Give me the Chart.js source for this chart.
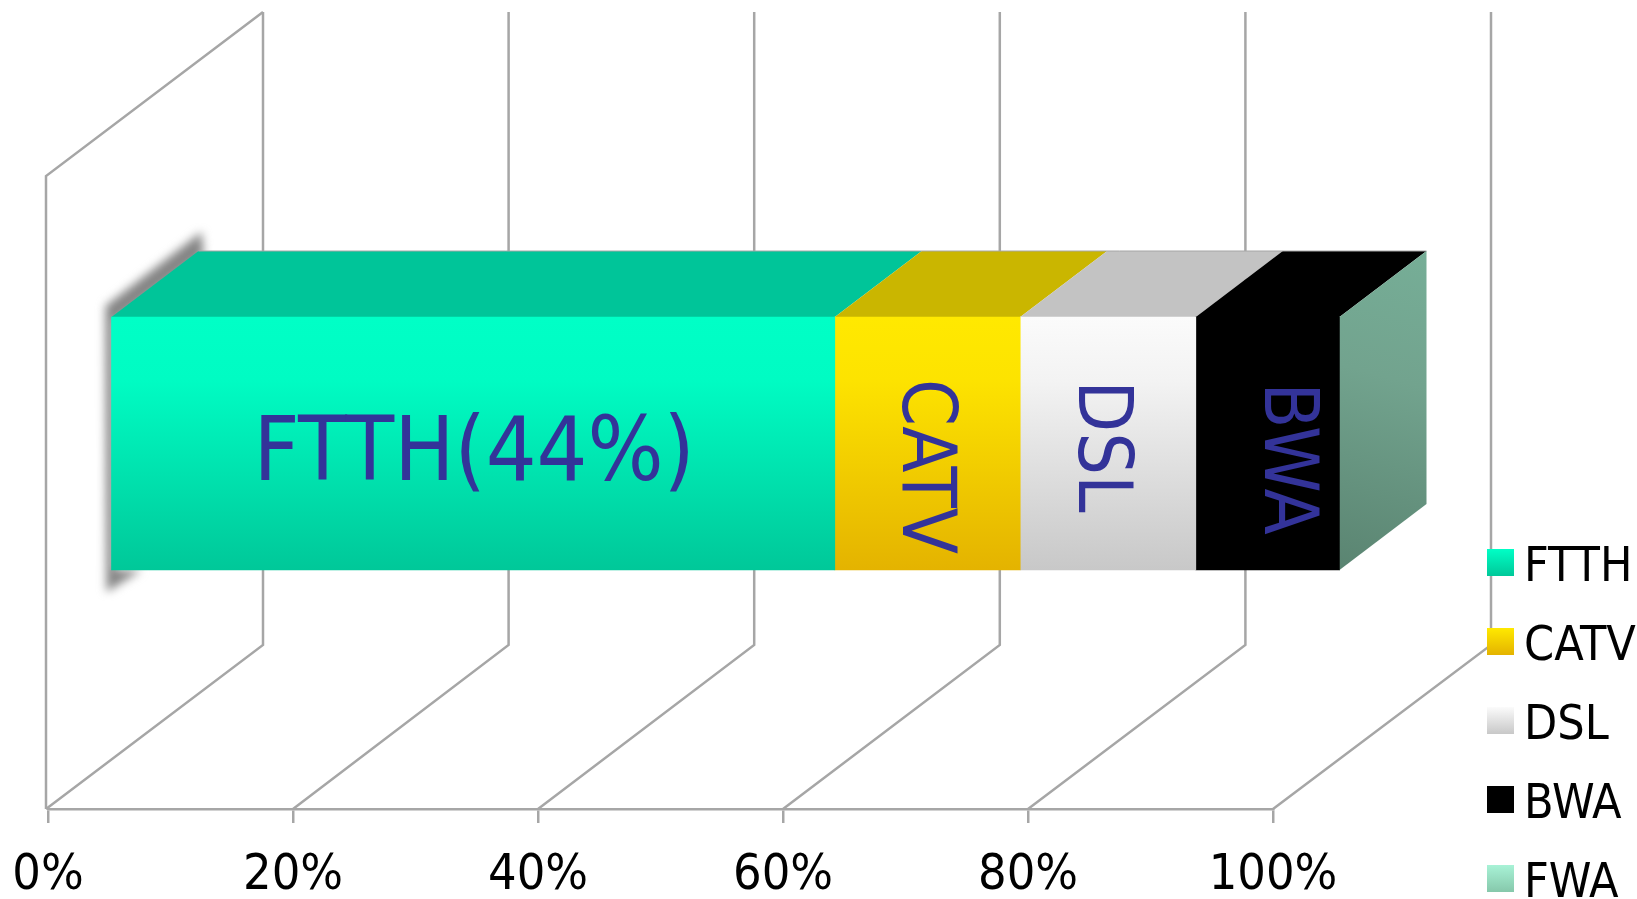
<!DOCTYPE html>
<html><head><meta charset="utf-8">
<style>html,body{margin:0;padding:0;background:#fff;overflow:hidden}#w{width:1637px;height:899px;position:relative}</style>
<script src="https://cdn.jsdelivr.net/npm/chart.js@4"></script>
</head><body><div id="w"><canvas id="c"></canvas></div>
<script>
const categories = ['Share'];
const seriesNames = ['FTTH','CATV','DSL','BWA','FWA'];
const ftth = [58.9];
const catv = [15.1];
const dsl = [14.3];
const bwa = [11.7];
const fwa = [0];
const axisTicks = [0,20,40,60,80,100];
const barLabels = ['FTTH(44%)','CATV','DSL','BWA',''];

const FONT = '"DejaVu Sans Condensed"';
const GRID = '#a6a6a6';
const LABEL = '#333399';
const faces = [
  {stops:[[0,'#00ffc6'],[.25,'#00fcc3'],[1,'#00c899']], top:'#00c599', legend:['#00ffc6','#00c899']},
  {stops:[[0,'#ffe900'],[.25,'#fde300'],[1,'#e4b300']], top:'#cab600', legend:['#ffe900','#e4b300']},
  {stops:[[0,'#fbfbfb'],[.25,'#f3f3f3'],[1,'#c8c8c8']], top:'#c3c3c3', legend:['#fbfbfb','#c8c8c8']},
  {stops:[[0,'#000000'],[1,'#000000']], top:'#000000', legend:['#000000','#000000']},
  {stops:[[0,'#a8f2d6'],[1,'#86c8ab']], top:'#74ab94', legend:['#a8f2d6','#86c8ab']}
];
const BAR_H = 253, D_X = 87, D_Y = 66;
function barGradient(ctx, i){
  const c = ctx.chart, yy = c.scales.y.getPixelForValue(0);
  const g = c.ctx.createLinearGradient(0, yy-BAR_H/2, 0, yy+BAR_H/2);
  faces[i].stops.forEach(s=>g.addColorStop(s[0],s[1]));
  return g;
}
function swatch(i){
  const cv = document.createElement('canvas'); cv.width=29; cv.height=39;
  const x = cv.getContext('2d'), g = x.createLinearGradient(0,0,0,27);
  g.addColorStop(0,faces[i].legend[0]); g.addColorStop(1,faces[i].legend[1]);
  x.fillStyle=g; x.fillRect(2,0,27,27);
  return cv;
}
const values = [ftth,catv,dsl,bwa,fwa];
const labelOffsets = [[1,13,0],[-5,23,90],[-9.5,3,90],[17,15,90]];

const walls = {
  id:'walls',
  afterLayout(c){
    const l=c.legend; l.left=1468; l.right=1637; l.top=513.5; l.bottom=1100; l.width=169; l.height=586.5;
  },
  beforeDraw(c){
    const x=c.scales.x, yb=c.chartArea.bottom, k=c.ctx;
    k.save(); k.strokeStyle=GRID; k.lineWidth=2.5; k.lineJoin='miter';
    const bx=v=>x.getPixelForValue(v)+215+0.03*v;
    const backFloor=645, backTop=12;
    axisTicks.forEach(v=>{
      k.beginPath(); k.moveTo(x.getPixelForValue(v)-(v===0?2:0),yb);
      k.lineTo(bx(v),backFloor); k.lineTo(bx(v),backTop); k.stroke();
    });
    const lx=x.getPixelForValue(0)-2;
    k.beginPath(); k.moveTo(lx,yb); k.lineTo(lx,yb-633); k.lineTo(bx(0),backTop); k.stroke();
    k.restore();
  },
  beforeDatasetsDraw(c){
    const k=c.ctx; k.save();
    const m0=c.getDatasetMeta(0).data[0];
    const L=m0.base, T=m0.y-BAR_H/2, B=m0.y+BAR_H/2;
    // soft shadow on the left of the block
    k.save(); k.filter='blur(5px)'; k.fillStyle='#848484';
    k.beginPath(); k.moveTo(L-6,T-11); k.lineTo(L+D_X+3,T-D_Y-19); k.lineTo(L+D_X+5,T-D_Y+4);
    k.lineTo(L+4,T+4); k.lineTo(L+4,B); k.lineTo(L+30,B); k.lineTo(L-5,B+22); k.closePath(); k.fill();
    k.restore();
    // top faces
    let right=L;
    c.data.datasets.forEach((d,i)=>{
      const e=c.getDatasetMeta(i).data[0];
      if(e.x-e.base>0){
        k.fillStyle=faces[i].top;
        k.beginPath(); k.moveTo(e.base,T); k.lineTo(e.x,T); k.lineTo(e.x+D_X,T-D_Y); k.lineTo(e.base+D_X,T-D_Y); k.closePath(); k.fill();
      }
      right=Math.max(right,e.x);
    });
    k.strokeStyle=GRID;k.lineWidth=1;k.beginPath();k.moveTo(L+D_X,T-D_Y);k.lineTo(right+D_X,T-D_Y);k.stroke();
    // end face carries the last series' shade
    const g=k.createLinearGradient(right+D_X,T-D_Y,right,B);
    g.addColorStop(0,'#76ae97'); g.addColorStop(.4,'#72a38e'); g.addColorStop(1,'#5a8471');
    k.fillStyle=g;
    k.beginPath(); k.moveTo(right,T); k.lineTo(right+D_X,T-D_Y); k.lineTo(right+D_X,B-D_Y); k.lineTo(right,B); k.closePath(); k.fill();
    k.restore();
  },
  afterDatasetsDraw(c){
    const k=c.ctx;
    barLabels.forEach((t,i)=>{
      if(!t) return;
      const e=c.getDatasetMeta(i).data[0], o=labelOffsets[i];
      k.save();
      k.translate((e.base+e.x)/2+o[0], e.y+o[1]);
      k.rotate(o[2]*Math.PI/180);
      k.font=(i===0?'89px ':'75px ')+FONT;
      k.fillStyle=LABEL; k.textAlign='center'; k.textBaseline='middle';
      k.fillText(t,0,0);
      k.restore();
    });
  }
};

new Chart(document.getElementById('c'),{
  type:'bar',
  data:{
    labels:categories,
    datasets:seriesNames.map((n,i)=>({
      label:n, data:values[i], xAxisID:'xBar', yAxisID:'y', clip:false,
      barThickness:BAR_H, borderWidth:0,
      backgroundColor:ctx=>barGradient(ctx,i)
    }))
  },
  options:{
    indexAxis:'y', responsive:true, maintainAspectRatio:false, animation:false,
    layout:{padding:{left:48,right:364,top:78,bottom:0}},
    scales:{
      x:{type:'linear',axis:'x',position:'bottom',min:0,max:100,
        afterBuildTicks(s){s.ticks=axisTicks.map(v=>({value:v}));},
        afterFit(s){s.height=90;s.paddingLeft=0;s.paddingRight=0;},
        border:{display:true,color:GRID,width:2.5},
        grid:{drawOnChartArea:false,drawTicks:true,tickLength:14,color:GRID,lineWidth:2.5},
        ticks:{padding:28,color:'#000',maxRotation:0,autoSkip:false,font:{family:FONT,size:50,lineHeight:1},callback:v=>v+'%'}
      },
      xBar:{type:'linear',axis:'x',position:'bottom',display:false,stacked:true,min:-63.5/12.28,max:1161.5/12.28},
      y:{type:'category',display:false,stacked:true}
    },
    plugins:{
      tooltip:{enabled:false},
      legend:{
        position:'chartArea',align:'start',
        labels:{
          usePointStyle:true,pointStyleWidth:1,boxHeight:27,padding:31,color:'#000',
          font:{family:FONT,size:48,lineHeight:1},
          generateLabels:c=>c.data.datasets.map((d,i)=>({text:d.label,pointStyle:swatch(i),datasetIndex:i,fontColor:'#000',hidden:false,lineWidth:0}))
        }
      }
    }
  },
  plugins:[walls]
});
</script></body></html>
